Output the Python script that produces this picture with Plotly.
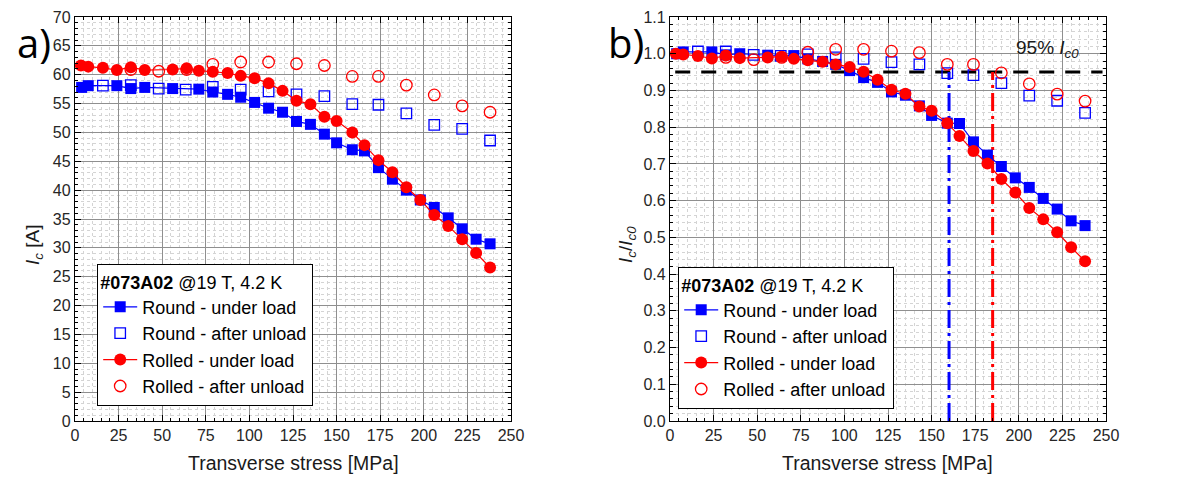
import plotly.graph_objects as go

# ---------------- data ----------------
x_round_load = [3.8, 7.6, 24, 32, 40, 56, 71, 79, 87.5, 95, 103, 111, 119, 127, 135, 143,
                150, 159, 166, 174, 182, 190, 198, 206, 214, 222, 230, 238]
ic_round_load = [57.8, 58.1, 58.1, 57.6, 57.8, 57.6, 57.5, 57.0, 56.6, 56.1, 55.2, 54.2, 53.5,
                 51.9, 51.4, 49.7, 48.2, 47.0, 46.8, 43.9, 41.9, 40.0, 38.3, 37.0, 35.2, 33.3,
                 31.5, 30.7]
norm_round_load = [1.0, 1.005, 1.005, 0.997, 1.0, 0.996, 0.995, 0.986, 0.979, 0.971, 0.954,
                   0.935, 0.922, 0.896, 0.887, 0.858, 0.832, 0.811, 0.81, 0.76, 0.724, 0.693,
                   0.662, 0.636, 0.606, 0.577, 0.545, 0.532]

x_round_unload = [16, 32, 48, 63.5, 79, 95, 111, 127, 143, 159, 174, 190, 206, 222, 238]
ic_round_unload = [58.1, 58.2, 57.6, 57.4, 57.9, 57.4, 57.1, 56.6, 56.3, 54.9, 54.8, 53.3,
                   51.3, 50.6, 48.6]
norm_round_unload = [1.006, 1.006, 0.997, 0.994, 0.998, 0.99, 0.986, 0.977, 0.971, 0.947,
                     0.942, 0.92, 0.886, 0.872, 0.839]

x_rolled_load = [3.4, 7.6, 16, 24, 32, 40, 56, 64, 71, 79, 87.5, 95, 103, 111, 119, 127, 135,
                 143, 150, 159, 166, 174, 182, 190, 198, 206, 214, 222, 230, 238]
ic_rolled_load = [61.6, 61.4, 61.2, 60.8, 61.3, 60.8, 60.9, 61.1, 60.7, 60.5, 60.3, 59.8, 59.4,
                  58.5, 57.2, 55.5, 54.9, 52.7, 52.0, 50.0, 47.8, 45.2, 43.1, 40.5, 38.3, 35.7,
                  33.8, 31.5, 29.1, 26.6]
norm_rolled_load = [1.0, 0.998, 0.994, 0.987, 0.995, 0.988, 0.99, 0.992, 0.986, 0.982, 0.978,
                    0.971, 0.964, 0.951, 0.929, 0.902, 0.891, 0.856, 0.845, 0.811, 0.776, 0.735,
                    0.701, 0.659, 0.622, 0.58, 0.549, 0.514, 0.473, 0.435]

x_rolled_unload = [32, 48, 64, 79, 95, 111, 127, 143, 159, 174, 190, 206, 222, 238]
ic_rolled_unload = [60.9, 60.6, 60.9, 61.8, 62.2, 62.2, 61.9, 61.6, 59.7, 59.7, 58.2, 56.5,
                    54.6, 53.5]
norm_rolled_unload = [0.99, 0.984, 0.99, 1.004, 1.012, 1.012, 1.007, 1.003, 0.971, 0.971,
                      0.948, 0.918, 0.89, 0.871]

level_95 = 0.95
level_x_range = [3, 248]
x95_round = 160
x95_rolled = 185

series_names = ["Round - under load", "Round - after unload",
                "Rolled - under load", "Rolled - after unload"]
legend_title = "<b>#073A02</b> @19 T, 4.2 K"

BLUE = "#0000FF"
RED = "#FF0000"
FONT = "Liberation Sans"

fig = go.Figure()


def add_series(ya, legend, xa, ya_name):
    fig.add_trace(go.Scatter(
        x=x_round_load, y=ya[0], mode="lines+markers", name=series_names[0],
        line=dict(color=BLUE, width=1.2),
        marker=dict(symbol="square", size=11, color=BLUE),
        legend=legend, xaxis=xa, yaxis=ya_name))
    fig.add_trace(go.Scatter(
        x=x_round_unload, y=ya[1], mode="markers", name=series_names[1],
        marker=dict(symbol="square-open", size=10.5, color=BLUE, line=dict(width=1.3)),
        legend=legend, xaxis=xa, yaxis=ya_name))
    fig.add_trace(go.Scatter(
        x=x_rolled_load, y=ya[2], mode="lines+markers", name=series_names[2],
        line=dict(color=RED, width=1.2),
        marker=dict(symbol="circle", size=12, color=RED),
        legend=legend, xaxis=xa, yaxis=ya_name))
    fig.add_trace(go.Scatter(
        x=x_rolled_unload, y=ya[3], mode="markers", name=series_names[3],
        marker=dict(symbol="circle-open", size=11.5, color=RED, line=dict(width=1.3)),
        legend=legend, xaxis=xa, yaxis=ya_name))


# left panel
add_series([ic_round_load, ic_round_unload, ic_rolled_load, ic_rolled_unload],
           "legend", "x", "y")

# right panel guide lines (drawn first so markers sit on top)
fig.add_trace(go.Scatter(x=level_x_range, y=[level_95, level_95], mode="lines",
                         line=dict(color="black", width=3, dash="15px,11px"),
                         showlegend=False, xaxis="x2", yaxis="y2", hoverinfo="skip"))
fig.add_trace(go.Scatter(x=[x95_round, x95_round], y=[0, level_95], mode="lines",
                         line=dict(color=BLUE, width=3, dash="18px,5px,3px,5px"),
                         showlegend=False, xaxis="x2", yaxis="y2", hoverinfo="skip"))
fig.add_trace(go.Scatter(x=[x95_rolled, x95_rolled], y=[0, level_95], mode="lines",
                         line=dict(color=RED, width=3, dash="18px,5px,3px,5px"),
                         showlegend=False, xaxis="x2", yaxis="y2", hoverinfo="skip"))
add_series([norm_round_load, norm_round_unload, norm_rolled_load, norm_rolled_unload],
           "legend2", "x2", "y2")

# page body has an 8px margin: figure is 1183x466 and sits at (8, 8)
OFF = 8
W, H = 1199 - 2 * OFF, 482 - 2 * OFF


def px(v):
    return (v - OFF) / W


def py(v):
    return (H - (v - OFF)) / H


xl = [px(75), px(511)]
xr = [px(670), px(1106)]
yd = [py(421), py(17)]

MAJ = "#8f8f8f"
MIN = "#d4d4d4"
TICKFONT = dict(family=FONT, size=16, color="#262626")


def xaxis_cfg(domain, anchor):
    return dict(domain=domain, anchor=anchor, range=[0, 250], dtick=25, tick0=0,
                automargin=False,
                showgrid=True, gridcolor=MAJ, gridwidth=1,
                ticks="inside", ticklen=6, tickcolor="black", mirror="ticks",
                showline=True, linecolor="black", linewidth=1.3,
                zeroline=False, tickfont=TICKFONT,
                minor=dict(dtick=5, ticks="inside", ticklen=3, tickcolor="black",
                           showgrid=True, gridcolor=MIN, griddash="dot", gridwidth=1))


def yaxis_cfg(anchor, rng, dtick, mdtick, fmt):
    return dict(domain=yd, anchor=anchor, range=rng, dtick=dtick, tick0=0,
                automargin=False,
                showgrid=True, gridcolor=MAJ, gridwidth=1,
                ticks="inside", ticklen=6, tickcolor="black", mirror="ticks",
                showline=True, linecolor="black", linewidth=1.3,
                zeroline=False, tickfont=TICKFONT, tickformat=fmt,
                minor=dict(dtick=mdtick, ticks="inside", ticklen=3, tickcolor="black",
                           showgrid=True, gridcolor=MIN, griddash="dot", gridwidth=1))


legend_common = dict(
    bgcolor="white", bordercolor="black", borderwidth=1.2,
    font=dict(family=FONT, size=18, color="black"),
    title=dict(text=legend_title, font=dict(family=FONT, size=18, color="black")),
    tracegroupgap=0, itemwidth=34, xanchor="left", yanchor="top",
    itemclick=False, itemdoubleclick=False,
)

fig.update_layout(
    width=W, height=H,
    margin=dict(l=0, r=0, t=0, b=0, autoexpand=False),
    paper_bgcolor="white", plot_bgcolor="white",
    font=dict(family=FONT, size=16, color="black"),
    xaxis=xaxis_cfg(xl, "y"),
    yaxis=yaxis_cfg("x", [0, 70], 5, 1, "d"),
    xaxis2=xaxis_cfg(xr, "y2"),
    yaxis2=yaxis_cfg("x2", [0, 1.1], 0.1, 0.02, ".1f"),
    legend=dict(x=px(97), y=py(264), **legend_common),
    legend2=dict(x=px(678), y=py(267), **legend_common),
    showlegend=True,
)

annots = [
    dict(text="a)", x=px(34), y=py(42), font=dict(family="Open Sans", size=40)),
    dict(text="b)", x=px(626), y=py(42), font=dict(family="Open Sans", size=40)),
    dict(text="Transverse stress [MPa]", x=px(293), y=py(463),
         font=dict(family=FONT, size=19.5, color="#1a1a1a")),
    dict(text="Transverse stress [MPa]", x=px(888), y=py(463),
         font=dict(family=FONT, size=19.5, color="#1a1a1a")),
    dict(text="<i>I</i><sub><i>c</i></sub> [A]", x=px(34), y=py(245), textangle=-90,
         font=dict(family=FONT, size=19, color="#1a1a1a")),
    dict(text="<i>I</i><sub><i>c</i></sub>/<i>I</i><sub><i>c0</i></sub>", x=px(627),
         y=py(245), textangle=-90, font=dict(family=FONT, size=19, color="#1a1a1a")),
]
for a in annots:
    fig.add_annotation(xref="paper", yref="paper", showarrow=False,
                       xanchor="center", yanchor="middle", **a)

fig.add_annotation(xref="x2", yref="y2", x=197, y=1.012, showarrow=False,
                   xanchor="left", yanchor="middle",
                   text="95% <i>I</i><sub><i>c0</i></sub>",
                   font=dict(family=FONT, size=19, color="#1a1a1a"))

fig.write_html("out.html")
